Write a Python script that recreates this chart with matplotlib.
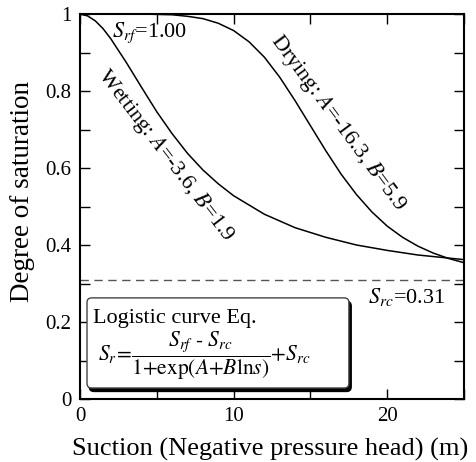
#!/usr/bin/env python3
import matplotlib
matplotlib.use("Agg")
import matplotlib.pyplot as plt
from matplotlib.patches import FancyBboxPatch

plt.rcParams['font.family'] = ['Liberation Serif', 'DejaVu Serif']
plt.rcParams['mathtext.fontset'] = 'stix'

# values
wet_s = [0, 0.5, 1, 1.5, 2, 3, 4, 5, 6, 7, 8, 9, 10, 12, 14, 16, 18, 20, 22, 25]
wet_sr = [1.0, 0.995, 0.982, 0.962, 0.936, 0.875, 0.810, 0.746, 0.689, 0.638,
          0.595, 0.559, 0.528, 0.480, 0.445, 0.420, 0.400, 0.386, 0.374, 0.362]
dry_s = [0, 4, 5, 6, 7, 8, 9, 10, 11, 12, 13, 14, 15, 16, 17, 18, 19, 20, 21, 22, 23, 24, 25]
dry_sr = [1.0, 1.0, 0.999, 0.998, 0.994, 0.988, 0.976, 0.957, 0.928, 0.888, 0.836,
          0.775, 0.710, 0.645, 0.584, 0.531, 0.486, 0.449, 0.420, 0.397, 0.379, 0.365, 0.354]
s_rc = 0.31

fig = plt.figure(figsize=(4.77, 4.62), dpi=100)
ax = fig.add_axes([80/477, 63/462, 384/477, 385/462])

ax.plot(wet_s, wet_sr, color='black', lw=1.1)
ax.plot(dry_s, dry_sr, color='black', lw=1.1)
ax.axhline(s_rc, color='#555555', lw=1.0, ls=(0, (6, 4)))

ax.set_xlim(0, 25)
ax.set_ylim(0, 1)
ax.set_xticks([0, 10, 20])
ax.set_xticks([5, 15, 25], minor=True)
ax.set_yticks([0, 0.2, 0.4, 0.6, 0.8, 1])
ax.set_yticklabels(['0', '0.2', '0.4', '0.6', '0.8', '1'])
ax.set_yticks([0.1, 0.3, 0.5, 0.7, 0.9], minor=True)
ax.tick_params(which='both', direction='in', top=True, right=True, labelsize=15)
ax.tick_params(which='both', length=7, width=1)
ax.tick_params(axis='x', pad=6)
ax.tick_params(axis='y', pad=6)
for sp in ax.spines.values():
    sp.set_linewidth(1.5)

ax.set_xlabel("Suction (Negative pressure head) (m)", fontsize=19, va='center')
ax.xaxis.set_label_coords(0.495, -0.13)
ax.set_ylabel("Degree of saturation", fontsize=19.5, va='center')
ax.yaxis.set_label_coords(-0.151, 0.54)

ax.text(2.08, 0.951, r"$S_{rf}$=1.00", fontsize=16, va='center', ha='left')
ax.text(5.6, 0.634, r"Wetting: $A$=-3.6, $B$=1.9", fontsize=16, rotation=-52.5,
        ha='center', va='center', rotation_mode='anchor')
ax.text(16.8, 0.717, r"Drying: $A$=-16.3, $B$=5.9", fontsize=16, rotation=-53.5,
        ha='center', va='center', rotation_mode='anchor')
ax.text(18.75, 0.265, r"$S_{rc}$=0.31", fontsize=16, va='center', ha='left')

# legend box with shadow
shadow = FancyBboxPatch((0.456 + 0.15, 0.0286 - 0.009), 17.05, 0.234,
                        boxstyle="round,pad=0,rounding_size=0.3", fc='black', ec='black',
                        lw=1, zorder=4, mutation_aspect=0.04)
ax.add_patch(shadow)
box = FancyBboxPatch((0.456, 0.0286), 17.05, 0.234,
                     boxstyle="round,pad=0,rounding_size=0.3", fc='white', ec='#444444',
                     lw=1, zorder=5, mutation_aspect=0.04)
ax.add_patch(box)
ax.text(0.85, 0.21, "Logistic curve Eq.", fontsize=16, va='center', ha='left', zorder=6)
ax.text(1.15, 0.112,
        r"$S_r\!=\!\dfrac{S_{rf}\ \text{-}\ S_{rc}}{1\text{+}\mathrm{exp}(A\text{+}B\mathrm{ln}s)}\text{+}S_{rc}$",
        fontsize=15.5, va='center', ha='left', zorder=6)

fig.savefig("out.png", dpi=100)
